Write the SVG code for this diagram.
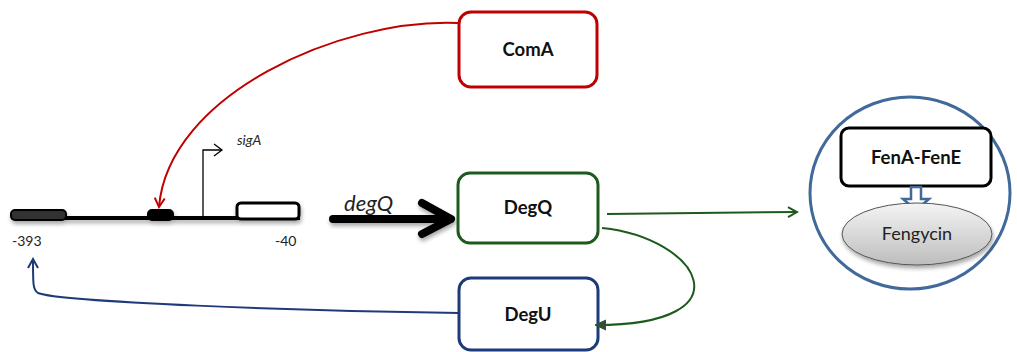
<svg xmlns="http://www.w3.org/2000/svg" width="1017" height="352" viewBox="0 0 1017 352">
  <defs>
    <style>
      .box { fill: #ffffff; stroke-width: 3; }
      .lbl { font-family: Lato, "Open Sans", "Liberation Sans", sans-serif; font-weight: bold; font-size: 18.5px; fill: #111; text-anchor: middle; }
      .num { font-family: Lato, "Open Sans", "Liberation Sans", sans-serif; font-size: 14px; fill: #222; }
      .ital { font-family: Lato, "Open Sans", "Liberation Sans", sans-serif; font-style: italic; fill: #222; }
      .link { fill: none; stroke-width: 2; }
    </style>
    <linearGradient id="gradGray" x1="0" y1="0" x2="0" y2="1">
      <stop offset="0" stop-color="#f4f4f4"/>
      <stop offset="1" stop-color="#bdbdbd"/>
    </linearGradient>
    <filter id="shadow" x="-20%" y="-30%" width="140%" height="180%">
      <feGaussianBlur in="SourceAlpha" stdDeviation="2"/>
      <feOffset dx="1" dy="3" result="b"/>
      <feComponentTransfer><feFuncA type="linear" slope="0.35"/></feComponentTransfer>
      <feMerge><feMergeNode/><feMergeNode in="SourceGraphic"/></feMerge>
    </filter>
    <marker id="arrRed" viewBox="0 0 12 12" refX="10" refY="6" markerWidth="12" markerHeight="12" markerUnits="userSpaceOnUse" orient="auto">
      <path d="M1,1 L10,6 L1,11" fill="none" stroke="#C00000" stroke-width="2"/>
    </marker>
    <marker id="arrBlue" viewBox="0 0 12 12" refX="10" refY="6" markerWidth="12" markerHeight="12" markerUnits="userSpaceOnUse" orient="auto">
      <path d="M1,1 L10,6 L1,11" fill="none" stroke="#1F3A7A" stroke-width="2"/>
    </marker>
    <marker id="arrGreen" viewBox="0 0 12 12" refX="10" refY="6" markerWidth="12" markerHeight="12" markerUnits="userSpaceOnUse" orient="auto">
      <path d="M1,1 L10,6 L1,11" fill="none" stroke="#1E5A1E" stroke-width="2"/>
    </marker>
    <marker id="triGreen" viewBox="0 0 12 12" refX="10" refY="6" markerWidth="12" markerHeight="12" markerUnits="userSpaceOnUse" orient="auto">
      <path d="M0,1 L11,6 L0,11 Z" fill="#3A4A3A" stroke="#1E5A1E" stroke-width="1"/>
    </marker>
  </defs>

  <rect width="1017" height="352" fill="#ffffff"/>

  <!-- promoter region of degQ -->
  <g id="gene">
    <g filter="url(#shadow)">
      <line x1="12" y1="218" x2="300" y2="218" stroke="#000" stroke-width="4"/>
      <rect x="11" y="210" width="55" height="10" rx="4" fill="#333" stroke="#000" stroke-width="2"/>
      <rect x="148" y="210" width="25" height="10" rx="4" fill="#000" stroke="#000" stroke-width="2"/>
      <rect x="237" y="203" width="62" height="16" rx="4" fill="#fff" stroke="#000" stroke-width="3"/>
    </g>
    <path d="M203,217 V150 H221" fill="none" stroke="#000" stroke-width="1.3"/>
    <path d="M214,144 L222,150 L214,156" fill="none" stroke="#000" stroke-width="1.3"/>
    <text class="ital" x="237" y="145" style="font-size:14px">sigA</text>
    <text class="num" x="12" y="246">-393</text>
    <text class="num" x="275" y="246">-40</text>
  </g>

  <!-- degQ transcription arrow -->
  <g id="degQ-gene">
    <g filter="url(#shadow)" stroke="#000" stroke-width="8" stroke-linecap="round" fill="none">
      <line x1="333" y1="219" x2="450" y2="219"/>
      <path d="M422,203 L451,219 L422,234" stroke-linejoin="round"/>
    </g>
    <text class="ital" x="344" y="211" style="font-size:22px">degQ</text>
  </g>

  <g id="ComA">
    <rect class="box" x="459" y="12" width="138" height="75" rx="12" stroke="#C00000"/>
    <text class="lbl" x="528" y="56">ComA</text>
  </g>

  <g id="DegQ">
    <rect class="box" x="458" y="173" width="140" height="70" rx="12" stroke="#1E5A1E"/>
    <text class="lbl" x="528" y="214">DegQ</text>
  </g>

  <g id="DegU">
    <rect class="box" x="459" y="278" width="139" height="72" rx="12" stroke="#1F3A7A"/>
    <text class="lbl" x="528" y="321">DegU</text>
  </g>

  <g id="Fengycin-cluster">
    <ellipse cx="910" cy="193" rx="100" ry="96" fill="#fff" stroke="#41699A" stroke-width="3"/>
    <rect x="841" y="128" width="150" height="58" rx="8" fill="#fff" stroke="#000" stroke-width="3"/>
    <text class="lbl" x="916" y="164">FenA-FenE</text>
    <path d="M911,187 H921 V199 H929 L916,210 L903,199 H911 Z" fill="#fff" stroke="#41699A" stroke-width="2.5" stroke-linejoin="miter"/>
    <ellipse cx="917" cy="234" rx="75" ry="31" fill="url(#gradGray)" stroke="#555" stroke-width="1" filter="url(#shadow)"/>
    <text class="lbl" x="917" y="240" style="font-weight:normal; font-size:18px; fill:#222">Fengycin</text>
  </g>

  <g id="connectors">
    <path class="link" d="M458,23 C340,18 168,95 159,207" stroke="#C00000" marker-end="url(#arrRed)"/>
    <path class="link" d="M459,313 C300,311 60,302 38,293 C33,290 33,285 33,259" stroke="#1F3A7A" marker-end="url(#arrBlue)"/>
    <path class="link" d="M607,214 L797,212" stroke="#1E5A1E" marker-end="url(#arrGreen)"/>
    <path class="link" d="M602,228 C700,238 750,325 596,325" stroke="#1E5A1E" marker-end="url(#triGreen)"/>
  </g>
</svg>
